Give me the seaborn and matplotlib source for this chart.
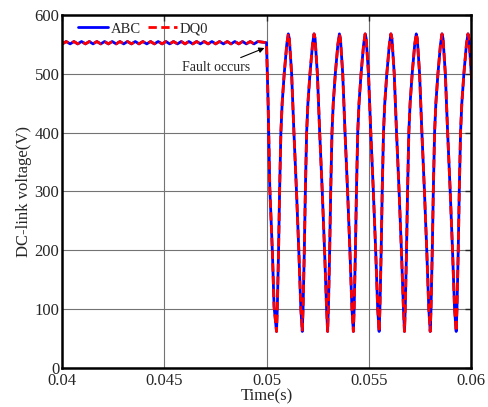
import numpy as np
import pandas as pd
import matplotlib
matplotlib.use("Agg")
import matplotlib.pyplot as plt
import seaborn as sns

# pre-fault DC-link ripple: crest times (s) and levels (V)
ripple_crest_t = [0.04020, 0.04058, 0.04095, 0.04133, 0.04170, 0.04208, 0.04245,
                  0.04283, 0.04320, 0.04358, 0.04395, 0.04433, 0.04470, 0.04508,
                  0.04545, 0.04583, 0.04620, 0.04658, 0.04695, 0.04733, 0.04770,
                  0.04808, 0.04845, 0.04883, 0.04920, 0.04958]
ripple_half = 0.000187
ripple_hi = 555
ripple_lo = 551

# voltage drop right after the fault
drop_t = [0.05000, 0.05008, 0.05016, 0.05029, 0.05037, 0.05049]
drop_v = [553, 449, 307, 195, 104, 62]

# post-fault oscillation: trough times and one cycle
trough_t = [0.05049, 0.05175, 0.05299, 0.05425, 0.05551, 0.05675, 0.05801, 0.05928]
cycle_period = 0.001253
cycle_phase = [0.0, 0.03, 0.08, 0.12, 0.17, 0.22, 0.30, 0.40, 0.46,
               0.50, 0.59, 0.68, 0.78, 0.87, 0.95]
cycle_v = [62, 100, 200, 300, 400, 450, 500, 550, 568,
           560, 500, 400, 300, 200, 100]

# assemble the waveform
t_all = [0.04]
v_all = [553]
for c in ripple_crest_t:
    t_all += [c - ripple_half, c]
    v_all += [ripple_lo, ripple_hi]
t_all += drop_t[:-1]
v_all += drop_v[:-1]
for t0 in trough_t:
    for p, v in zip(cycle_phase, cycle_v):
        t_all.append(t0 + p * cycle_period)
        v_all.append(v)

df = pd.DataFrame({"t": t_all, "v": v_all})

sns.set_style("white")
plt.rcParams["font.family"] = ["Liberation Serif", "DejaVu Serif"]

fig = plt.figure(figsize=(4.89, 4.07), dpi=100)
ax = fig.add_axes([0.127, 0.096, 0.836, 0.867])

sns.lineplot(data=df, x="t", y="v", ax=ax, color="blue", lw=2.0,
             estimator=None, sort=False, label="ABC")
sns.lineplot(data=df, x="t", y="v", ax=ax, color="red", lw=2.0,
             estimator=None, sort=False, label="DQ0", dashes=False)
ax.lines[1].set_linestyle((0, (3, 1.6)))

ax.set_xlim(0.04, 0.06)
ax.set_ylim(0, 600)
ax.set_xticks([0.04, 0.045, 0.05, 0.055, 0.06])
ax.set_xticklabels(["0.04", "0.045", "0.05", "0.055", "0.06"])
ax.set_yticks(range(0, 601, 100))
ax.grid(True, color="0.45", lw=0.8)
ax.set_axisbelow(True)
ax.tick_params(direction="in", top=True, right=True, length=4, width=1,
               labelsize=12, pad=2)
ax.tick_params(axis="x", pad=4)
for s in ax.spines.values():
    s.set_linewidth(1.8)
    s.set_color("black")

ax.set_xlabel("Time(s)", fontsize=12, labelpad=-1)
ax.set_ylabel("DC-link voltage(V)", fontsize=12, labelpad=2)

ax.annotate("Fault occurs", xy=(0.04990, 544), xytext=(0.04922, 500),
            fontsize=10, ha="right", va="bottom",
            arrowprops=dict(arrowstyle="-|>", color="black", lw=0.8,
                            mutation_scale=8, shrinkA=0, shrinkB=0))

leg = ax.legend(loc="upper left", bbox_to_anchor=(0.022, 1.0), ncol=2,
                frameon=False, fontsize=10.5, handlelength=2.0,
                columnspacing=0.5, handletextpad=0.2, borderaxespad=0.1)

fig.savefig("out.png", dpi=100)
